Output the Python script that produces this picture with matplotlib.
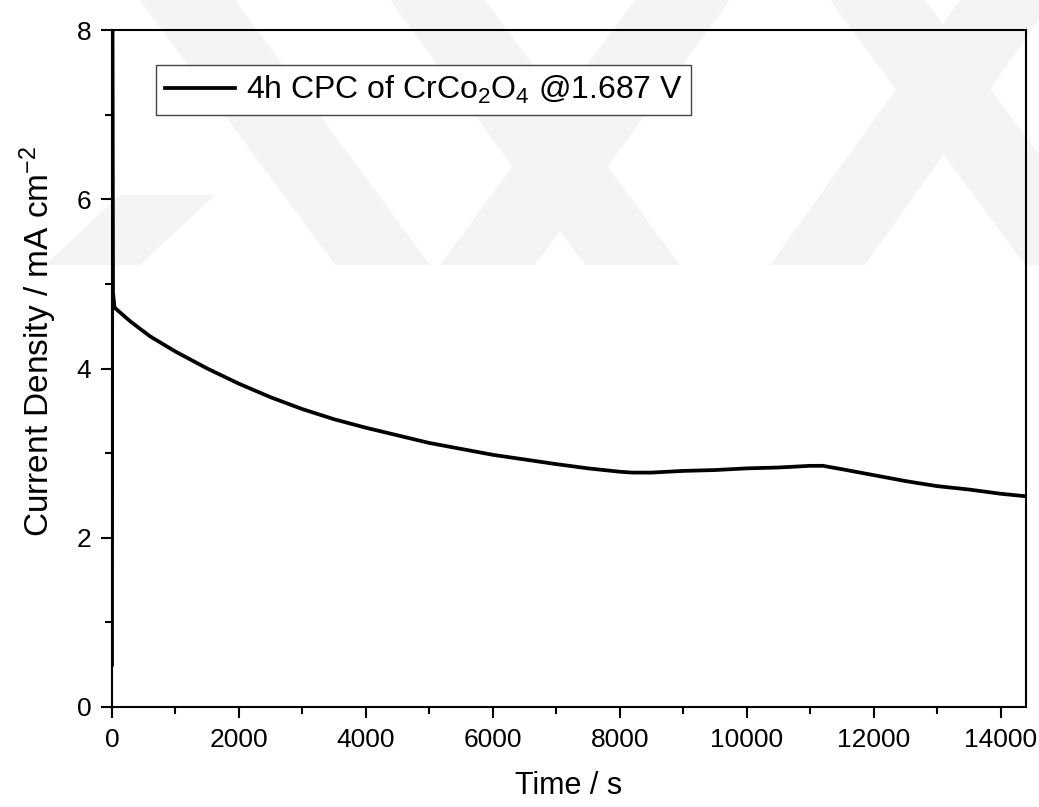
import matplotlib
matplotlib.use('Agg')
import matplotlib.pyplot as plt
from matplotlib.patches import Polygon
from matplotlib.ticker import MultipleLocator

plt.rcParams['font.family'] = ['Liberation Sans', 'DejaVu Sans']
plt.rcParams['mathtext.default'] = 'regular'

# chronoamperometry data
time_s = [0, 5, 15, 40, 100, 300, 600, 1000, 1500, 2000, 2500, 3000, 3500,
          4000, 5000, 6000, 7000, 7500, 8000, 8200, 8500, 9000, 9500, 10000,
          10500, 11000, 11200, 11500, 12000, 12500, 13000, 13500, 14000, 14400]
current = [0.5, 8.2, 4.9, 4.72, 4.68, 4.55, 4.38, 4.2, 4.0, 3.82, 3.66, 3.52, 3.40,
           3.30, 3.12, 2.98, 2.87, 2.82, 2.78, 2.77, 2.77, 2.79, 2.80, 2.82,
           2.83, 2.85, 2.85, 2.81, 2.74, 2.67, 2.61, 2.57, 2.52, 2.49]
label = '4h CPC of CrCo$_2$O$_4$ @1.687 V'

fig = plt.figure(figsize=(10.39, 8.07), dpi=100)

# faint background watermark (pixel coords, origin top-left)
W, H = 1039, 807
bands = [
    [(140, 0), (235, 0), (430, 265), (335, 265)],
    [(45, 265), (140, 265), (215, 195), (120, 195)],
    [(390, 0), (485, 0), (680, 265), (585, 265)],
    [(635, 0), (730, 0), (535, 265), (440, 265)],
    [(830, 0), (925, 0), (1039, 155), (1039, 265), (1025, 265)],
    [(960, 0), (1039, 0), (1039, 20), (865, 265), (770, 265)],
]
for b in bands:
    pts = [(x / W, 1 - y / H) for x, y in b]
    fig.patches.append(Polygon(pts, closed=True, transform=fig.transFigure,
                               facecolor='#f4f4f4', edgecolor='none', zorder=-1))

ax = fig.add_axes([112 / W, 1 - 707 / H, (1026 - 112) / W, (707 - 30) / H])
ax.patch.set_alpha(0)

ax.plot(time_s, current, color='black', linewidth=2.7, label=label)

ax.set_xlim(0, 14400)
ax.set_ylim(0, 8)
ax.xaxis.set_major_locator(MultipleLocator(2000))
ax.xaxis.set_minor_locator(MultipleLocator(1000))
ax.yaxis.set_major_locator(MultipleLocator(2))
ax.yaxis.set_minor_locator(MultipleLocator(1))
ax.tick_params(which='both', direction='out', width=1.5, labelsize=19, pad=7)
ax.tick_params(which='major', length=8)
ax.tick_params(which='minor', length=5)
for s in ax.spines.values():
    s.set_linewidth(1.5)

ax.set_xlabel('Time / s', fontsize=22, labelpad=14)
ax.set_ylabel('Current Density / mA cm$^{-2}$', fontsize=24)
ax.yaxis.set_label_coords(-0.058, 0.54)

leg = ax.legend(loc='upper left', bbox_to_anchor=(0.048, 0.948), fontsize=23,
                fancybox=False, framealpha=1, edgecolor='#444444',
                handlelength=2.2, borderpad=0.28, handletextpad=0.33,
                borderaxespad=0)
leg.get_frame().set_linewidth(1.0)

fig.savefig('out.png', dpi=100)
